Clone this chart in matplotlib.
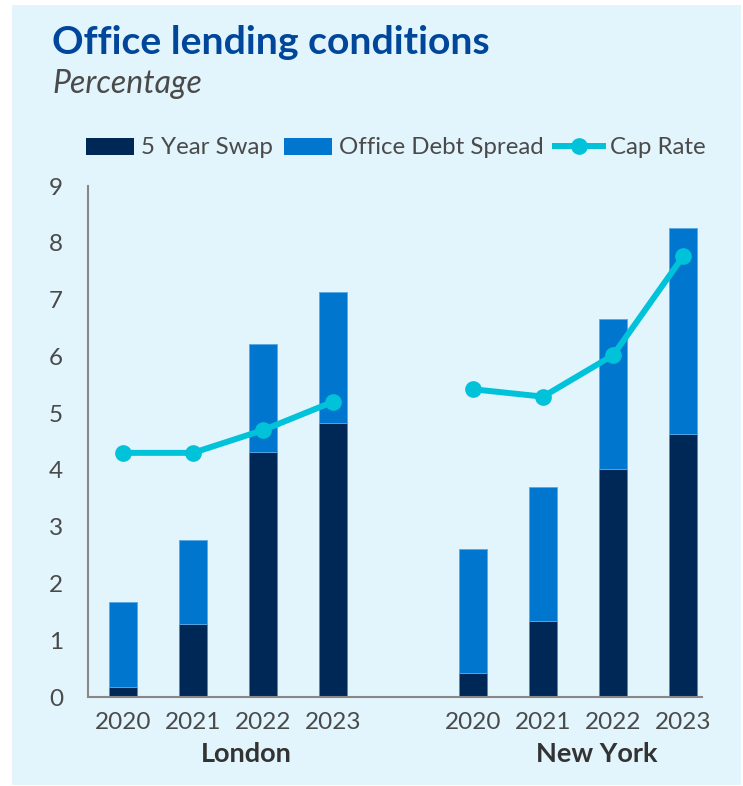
import matplotlib
matplotlib.use('Agg')
import matplotlib.pyplot as plt
import matplotlib.patches as patches
from matplotlib.lines import Line2D

plt.rcParams['font.family'] = ['Lato', 'DejaVu Sans']

# data
years = ['2020', '2021', '2022', '2023']
cities = ['London', 'New York']
london_swap = [0.18, 1.28, 4.32, 4.82]
london_spread = [1.50, 1.49, 1.90, 2.31]
london_cap = [4.30, 4.30, 4.70, 5.20]
ny_swap = [0.42, 1.33, 4.02, 4.63]
ny_spread = [2.19, 2.37, 2.64, 3.63]
ny_cap = [5.42, 5.29, 6.02, 7.76]
yticks = [0, 1, 2, 3, 4, 5, 6, 7, 8, 9]

# colors
bg = '#e2f4fc'
c_swap = '#002856'
c_spread = '#0076cf'
c_cap = '#00c2d8'
c_title = '#00479b'
c_text = '#4a4a4a'

W, H = 743, 786
fig = plt.figure(figsize=(W / 100, H / 100), dpi=100)
fig.patch.set_facecolor('white')
panel = patches.Rectangle((12 / W, 1 / H), (741 - 12) / W, (785 - 5) / H,
                          transform=fig.transFigure, fc=bg, ec='none', zorder=-10)
fig.patches.append(panel)

ax = fig.add_axes([88 / W, 1 - 697 / H, (702 - 88) / W, (697 - 186) / H])
ax.set_facecolor('none')

groups = [(london_swap, london_spread, london_cap), (ny_swap, ny_spread, ny_cap)]
offsets = [0, 5]
width = 0.4
xt, xl = [], []
for (swap, spread, cap), off in zip(groups, offsets):
    xs = [off + i for i in range(len(years))]
    ax.bar(xs, swap, width, color=c_swap, edgecolor='#5a86b5', linewidth=0.6, zorder=2)
    ax.bar(xs, spread, width, bottom=swap, color=c_spread, edgecolor='#5aa8e6',
           linewidth=0.6, zorder=2)
    ax.plot(xs, cap, color=c_cap, lw=4.3, marker='o', markersize=11, zorder=3)
    xt += xs
    xl += years

ax.set_xlim(-0.5, 8.27)
ax.set_ylim(0, 9)
ax.set_yticks(yticks)
ax.set_xticks(xt)
ax.set_xticklabels(xl)
ax.tick_params(axis='both', length=0, labelsize=17.5, labelcolor=c_text)
ax.tick_params(axis='y', pad=18)
ax.tick_params(axis='x', pad=11)

for s in ['top', 'right']:
    ax.spines[s].set_visible(False)
for s in ['left', 'bottom']:
    ax.spines[s].set_color('#888888')
    ax.spines[s].set_linewidth(1.5)

for name, cx in zip(cities, [1.76, 6.76]):
    ax.text(cx, -(754 - 697) / (697 - 186), name, transform=ax.get_xaxis_transform(),
            ha='center', va='center', fontsize=19.5, fontweight='bold', color='#333333')

fig.text(52 / W, 1 - 54 / H, 'Office lending conditions', fontsize=28.2, fontweight='bold',
         color=c_title, va='baseline', ha='left')
fig.text(52 / W, 1 - 93 / H, 'Percentage', fontsize=23, style='italic',
         color=c_text, va='baseline', ha='left')

handles = [patches.Patch(fc=c_swap, ec='none'),
           patches.Patch(fc=c_spread, ec='none'),
           Line2D([], [], color=c_cap, lw=4.3, marker='o', markersize=11)]
leg = fig.legend(handles, ['5 Year Swap', 'Office Debt Spread', 'Cap Rate'],
                 loc='center', bbox_to_anchor=(396 / W, 1 - 148 / H), ncol=3,
                 frameon=False, fontsize=17.3, handlelength=2.0, handleheight=0.7,
                 handletextpad=0.3, columnspacing=0.45, labelcolor=c_text)

fig.savefig('out.png', dpi=100)
